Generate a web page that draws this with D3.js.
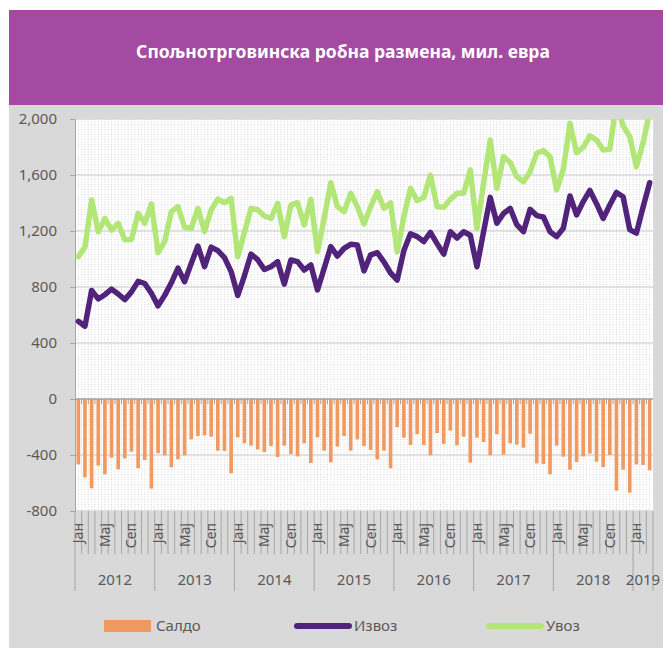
<!DOCTYPE html>
<html lang="sr">
<head>
    <meta charset="UTF-8">
    <title>Спољнотрговинска робна размена</title>
    <script src="https://d3js.org/d3.v7.min.js"></script>
    <style>
        body { margin: 0; background: #fff; }
        text { font-family: "Noto Sans", "Open Sans", sans-serif; fill: #595959; }
    </style>
</head>
<body>

<svg width="663" height="648"></svg>

<script>

    // подаци, мил. евра, јан 2012 - мар 2019
    var years = [2012, 2013, 2014, 2015, 2016, 2017, 2018, 2019];
    var monthNames = ['Јан', 'Феб', 'Мар', 'Апр', 'Мај', 'Јун', 'Јул', 'Авг', 'Сеп', 'Окт', 'Нов', 'Дец'];
    var shownMonths = ['Јан', 'Мај', 'Сеп'];

    var izvoz = [
        555, 520, 775, 715, 745, 785, 750, 710, 765, 840, 825, 755,
        665, 740, 830, 935, 838, 969, 1093, 945, 1085, 1060, 1010, 910,
        740, 880, 1035, 995, 925, 945, 981, 821, 993, 981, 921, 957,
        779, 933, 1088, 1021, 1076, 1105, 1100, 915, 1030, 1045, 980, 900,
        850, 1060, 1180, 1160, 1125, 1190, 1110, 1035, 1195, 1150, 1195, 1170,
        945, 1195, 1440, 1255, 1325, 1362, 1245, 1195, 1355, 1310, 1300, 1195,
        1160, 1220, 1450, 1315, 1410, 1490, 1395, 1290, 1385, 1475, 1445, 1210,
        1185, 1370, 1545
    ];
    var uvoz = [
        1017, 1085, 1421, 1195, 1290, 1207, 1255, 1138, 1140, 1326, 1255, 1393,
        1045, 1124, 1338, 1374, 1226, 1219, 1362, 1197, 1350, 1428, 1402, 1433,
        1017, 1190, 1362, 1352, 1307, 1290, 1398, 1160, 1386, 1402, 1243, 1426,
        1052, 1290, 1545, 1374, 1338, 1469, 1374, 1250, 1374, 1481, 1362, 1400,
        1052, 1302, 1505, 1417, 1440, 1598, 1374, 1369, 1426, 1469, 1469, 1636,
        1219, 1540, 1850, 1505, 1731, 1690, 1588, 1552, 1624, 1755, 1774, 1731,
        1493, 1640, 1969, 1760, 1798, 1879, 1850, 1779, 1783, 2120, 1950, 1875,
        1660, 1828, 2050
    ];
    var saldo = [
        -467, -560, -638, -476, -538, -419, -502, -424, -376, -495, -436, -640,
        -388, -402, -488, -431, -402, -288, -264, -260, -269, -369, -371, -531,
        -274, -317, -333, -360, -379, -336, -414, -333, -393, -410, -317, -457,
        -274, -369, -452, -340, -264, -369, -288, -336, -364, -431, -369, -495,
        -202, -276, -329, -250, -329, -402, -243, -321, -226, -331, -269, -455,
        -276, -307, -402, -252, -398, -317, -326, -348, -248, -460, -464, -538,
        -333, -412, -505, -450, -410, -390, -448, -486, -400, -655, -505, -669,
        -467, -471, -510
    ];
    var yTicks = [-800, -400, 0, 400, 800, 1200, 1600, 2000];

    // категорије: година + месец
    var cats = [];
    years.forEach(function (yr) {
        monthNames.forEach(function (m, mi) {
            if (cats.length < saldo.length) cats.push({year: yr, month: m, mi: mi});
        });
    });

    var colSaldo = '#f09a62', colIzvoz = '#52237a', colUvoz = '#b2e677';
    var grid = '#d9d9d9', axisCol = '#a6a6a6';

    var svg = d3.select('svg');
    var pLeft = 75, pRight = 653, pTop = 119, pBottom = 511;

    // позадина
    svg.append('rect').attr('x', 9).attr('y', 104).attr('width', 654).attr('height', 544).attr('fill', '#d9d9d9');
    svg.append('rect').attr('x', 9).attr('y', 10).attr('width', 654).attr('height', 95).attr('fill', '#a44aa3');
    svg.append('text')
        .attr('x', 343).attr('y', 58)
        .attr('text-anchor', 'middle')
        .style('fill', '#fff').style('font-weight', 'bold').style('font-size', '17.5px')
        .text('Спољнотрговинска робна размена, мил. евра');

    svg.append('rect').attr('x', pLeft).attr('y', pTop).attr('width', pRight - pLeft).attr('height', pBottom - pTop).attr('fill', '#fff');

    var x = d3.scaleBand()
        .domain(d3.range(cats.length))
        .range([pLeft, pRight])
        .paddingInner(0.45)
        .paddingOuter(0.225);
    var step = x.step();
    var cx = function (i) { return x(i) + x.bandwidth() / 2; };

    var y = d3.scaleLinear().domain([-800, 2000]).range([pBottom, pTop]);

    // вертикалне тачкасте линије
    svg.append('g').selectAll('line')
        .data(d3.range(1, cats.length * 2))
        .enter().append('line')
        .attr('x1', function (k) { return pLeft + k * step / 2; })
        .attr('x2', function (k) { return pLeft + k * step / 2; })
        .attr('y1', pTop).attr('y2', pBottom)
        .attr('stroke', '#d4d4d4').attr('stroke-width', 1).attr('stroke-dasharray', '1,1.5');

    // хоризонталне линије мреже
    svg.append('g').selectAll('line')
        .data(yTicks.filter(function (t) { return t !== 0; }))
        .enter().append('line')
        .attr('x1', pLeft).attr('x2', pRight)
        .attr('y1', function (d) { return y(d); }).attr('y2', function (d) { return y(d); })
        .attr('stroke', grid).attr('stroke-width', 1.5);

    // y оса
    var fmt = d3.formatLocale({decimal: '.', thousands: ',', grouping: [3], currency: ['', ''], minus: '-'}).format(',');
    var yAxis = svg.append('g')
        .attr('transform', 'translate(' + pLeft + ',0)')
        .call(d3.axisLeft(y).tickValues(yTicks).tickFormat(fmt).tickSize(5).tickPadding(13));
    yAxis.select('.domain').attr('stroke', axisCol);
    yAxis.selectAll('.tick line').attr('stroke', axisCol);
    yAxis.selectAll('text').style('font-size', '15px').style('font-family', '"Noto Sans", sans-serif').attr('fill', '#595959');

    // стубићи - салдо
    svg.append('g').selectAll('rect')
        .data(saldo)
        .enter().append('rect')
        .attr('x', function (d, i) { return x(i); })
        .attr('width', x.bandwidth())
        .attr('y', function (d) { return y(Math.max(0, d)); })
        .attr('height', function (d) { return Math.abs(y(d) - y(0)); })
        .attr('fill', colSaldo);

    // нулта линија са подеоцима
    svg.append('line')
        .attr('x1', pLeft).attr('x2', pRight).attr('y1', y(0)).attr('y2', y(0))
        .attr('stroke', '#a0a0a0').attr('stroke-width', 1.5);
    svg.append('g').selectAll('line')
        .data(d3.range(1, cats.length))
        .enter().append('line')
        .attr('x1', function (k) { return pLeft + k * step; })
        .attr('x2', function (k) { return pLeft + k * step; })
        .attr('y1', y(0)).attr('y2', y(0) + 5)
        .attr('stroke', '#a0a0a0').attr('stroke-width', 1);

    // линије
    svg.append('clipPath').attr('id', 'plotclip')
        .append('rect').attr('x', pLeft).attr('y', pTop).attr('width', pRight - pLeft).attr('height', pBottom - pTop);

    var line = d3.line()
        .x(function (d, i) { return cx(i); })
        .y(function (d) { return y(d); });

    var lines = svg.append('g').attr('clip-path', 'url(#plotclip)');
    lines.append('path').datum(uvoz)
        .attr('d', line).attr('fill', 'none')
        .attr('stroke', colUvoz).attr('stroke-width', 5.5)
        .attr('stroke-linejoin', 'round').attr('stroke-linecap', 'round');
    lines.append('path').datum(izvoz)
        .attr('d', line).attr('fill', 'none')
        .attr('stroke', colIzvoz).attr('stroke-width', 5.5)
        .attr('stroke-linejoin', 'round').attr('stroke-linecap', 'round');

    // категоријска оса (месеци и године)
    var catAxis = svg.append('g');
    catAxis.selectAll('line.m')
        .data(d3.range(0, cats.length + 1))
        .enter().append('line')
        .attr('x1', function (k) { return pLeft + k * step; })
        .attr('x2', function (k) { return pLeft + k * step; })
        .attr('y1', pBottom)
        .attr('y2', function (k) { return (k % 12 === 0 || k === cats.length) ? 591 : 554; })
        .attr('stroke', axisCol).attr('stroke-width', 1);

    catAxis.selectAll('text.m')
        .data(cats.filter(function (c) { return shownMonths.indexOf(c.month) >= 0; }))
        .enter().append('text')
        .attr('transform', function (c) {
            var i = cats.indexOf(c);
            return 'translate(' + (cx(i) + 5) + ',523) rotate(-90)';
        })
        .attr('text-anchor', 'end')
        .style('font-size', '14px')
        .text(function (c) { return c.month; });

    catAxis.selectAll('text.y')
        .data(years)
        .enter().append('text')
        .attr('x', function (yr) {
            var idx = cats.map(function (c, i) { return c.year === yr ? i : -1; }).filter(function (i) { return i >= 0; });
            return (x(idx[0]) - x.paddingOuter() * step + x(idx[idx.length - 1]) + x.bandwidth() + x.paddingOuter() * step) / 2;
        })
        .attr('y', 585)
        .attr('text-anchor', 'middle')
        .style('font-size', '15px')
        .text(function (yr) { return yr; });

    // легенда
    var lg = svg.append('g').attr('transform', 'translate(0,626)');
    lg.append('rect').attr('x', 104).attr('y', -6).attr('width', 47).attr('height', 12).attr('fill', colSaldo);
    lg.append('text').attr('x', 156).attr('y', 5).style('font-size', '15px').text('Салдо');
    lg.append('line').attr('x1', 297).attr('x2', 349).attr('y1', 0).attr('y2', 0)
        .attr('stroke', colIzvoz).attr('stroke-width', 6).attr('stroke-linecap', 'round');
    lg.append('text').attr('x', 354).attr('y', 5).style('font-size', '15px').text('Извоз');
    lg.append('line').attr('x1', 489).attr('x2', 541).attr('y1', 0).attr('y2', 0)
        .attr('stroke', colUvoz).attr('stroke-width', 6).attr('stroke-linecap', 'round');
    lg.append('text').attr('x', 546).attr('y', 5).style('font-size', '15px').text('Увоз');

</script>
</body>
</html>
